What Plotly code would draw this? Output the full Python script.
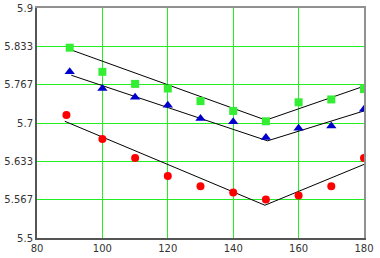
import plotly.graph_objects as go

# Data
x_pts = [90, 100, 110, 120, 130, 140, 150, 160, 170, 180]
x_red = [89, 100, 110, 120, 130, 140, 150, 160, 170, 180]
green_sq = [5.831, 5.789, 5.768, 5.760, 5.738, 5.721, 5.703, 5.736, 5.741, 5.759]
blue_tri = [5.789, 5.760, 5.745, 5.731, 5.708, 5.702, 5.675, 5.691, 5.695, 5.724]
red_circ = [5.714, 5.672, 5.639, 5.608, 5.590, 5.579, 5.567, 5.574, 5.590, 5.639]

green_fit_x = [90, 150, 180]
green_fit_y = [5.828, 5.705, 5.764]
blue_fit_x = [90.5, 150.5, 180]
blue_fit_y = [5.783, 5.669, 5.721]
red_fit_x = [88.5, 149.7, 180]
red_fit_y = [5.703, 5.557, 5.628]

x_ticks = [80, 100, 120, 140, 160, 180]
y_ticks = [5.5, 5.567, 5.633, 5.7, 5.767, 5.833, 5.9]
y_tick_text = ["5.5", "5.567", "5.633", "5.7", "5.767", "5.833", "5.9"]
x_range = [80, 180]
y_range = [5.5, 5.9]

fig = go.Figure()
for fx, fy in [(green_fit_x, green_fit_y), (blue_fit_x, blue_fit_y), (red_fit_x, red_fit_y)]:
    fig.add_trace(go.Scatter(x=fx, y=fy, mode="lines",
                             line=dict(color="black", width=1), showlegend=False,
                             hoverinfo="skip"))

fig.add_trace(go.Scatter(x=x_red, y=red_circ, mode="markers",
                         marker=dict(symbol="circle", size=8, color="#ff0000",
                                     line=dict(width=0)), showlegend=False))
fig.add_trace(go.Scatter(x=x_pts, y=blue_tri, mode="markers",
                         marker=dict(symbol="triangle-up", size=9, color="#0000cc",
                                     line=dict(width=0)), showlegend=False))
fig.add_trace(go.Scatter(x=x_pts, y=green_sq, mode="markers",
                         marker=dict(symbol="square", size=8, color="#33ee33",
                                     line=dict(width=0)), showlegend=False))

tick_font = dict(family="DejaVu Sans", size=10, color="#333333")
fig.update_layout(
    width=380, height=258,
    margin=dict(l=37, r=16, t=8, b=20, pad=0),
    plot_bgcolor="white", paper_bgcolor="white",
    xaxis=dict(range=x_range, tickvals=x_ticks, showgrid=True,
               gridcolor="#22ee22", gridwidth=1, zeroline=False,
               showline=True, linecolor="#555555", linewidth=2,
               ticks="", tickfont=tick_font, automargin=False),
    yaxis=dict(range=y_range, tickvals=y_ticks, ticktext=y_tick_text,
               showgrid=True, gridcolor="#22ee22", gridwidth=1, zeroline=False,
               showline=True, linecolor="#555555", linewidth=2,
               ticks="", tickfont=tick_font, automargin=False),
    xaxis2=dict(range=x_range, overlaying="x", side="top", showgrid=False,
                zeroline=False, showticklabels=False, ticks="",
                showline=True, linecolor="#909090", linewidth=2),
    yaxis2=dict(range=y_range, overlaying="y", side="right", showgrid=False,
                zeroline=False, showticklabels=False, ticks="",
                showline=True, linecolor="#909090", linewidth=2),
)
# invisible trace to activate the secondary (border) axes
fig.add_trace(go.Scatter(x=[x_range[0]], y=[y_range[0]], xaxis="x2", yaxis="y2",
                         mode="markers", marker=dict(opacity=0), showlegend=False,
                         hoverinfo="skip"))

fig.write_html("out.html", config={"displayModeBar": False},
               post_script="document.body.style.margin='0';document.body.style.overflow='hidden';")
